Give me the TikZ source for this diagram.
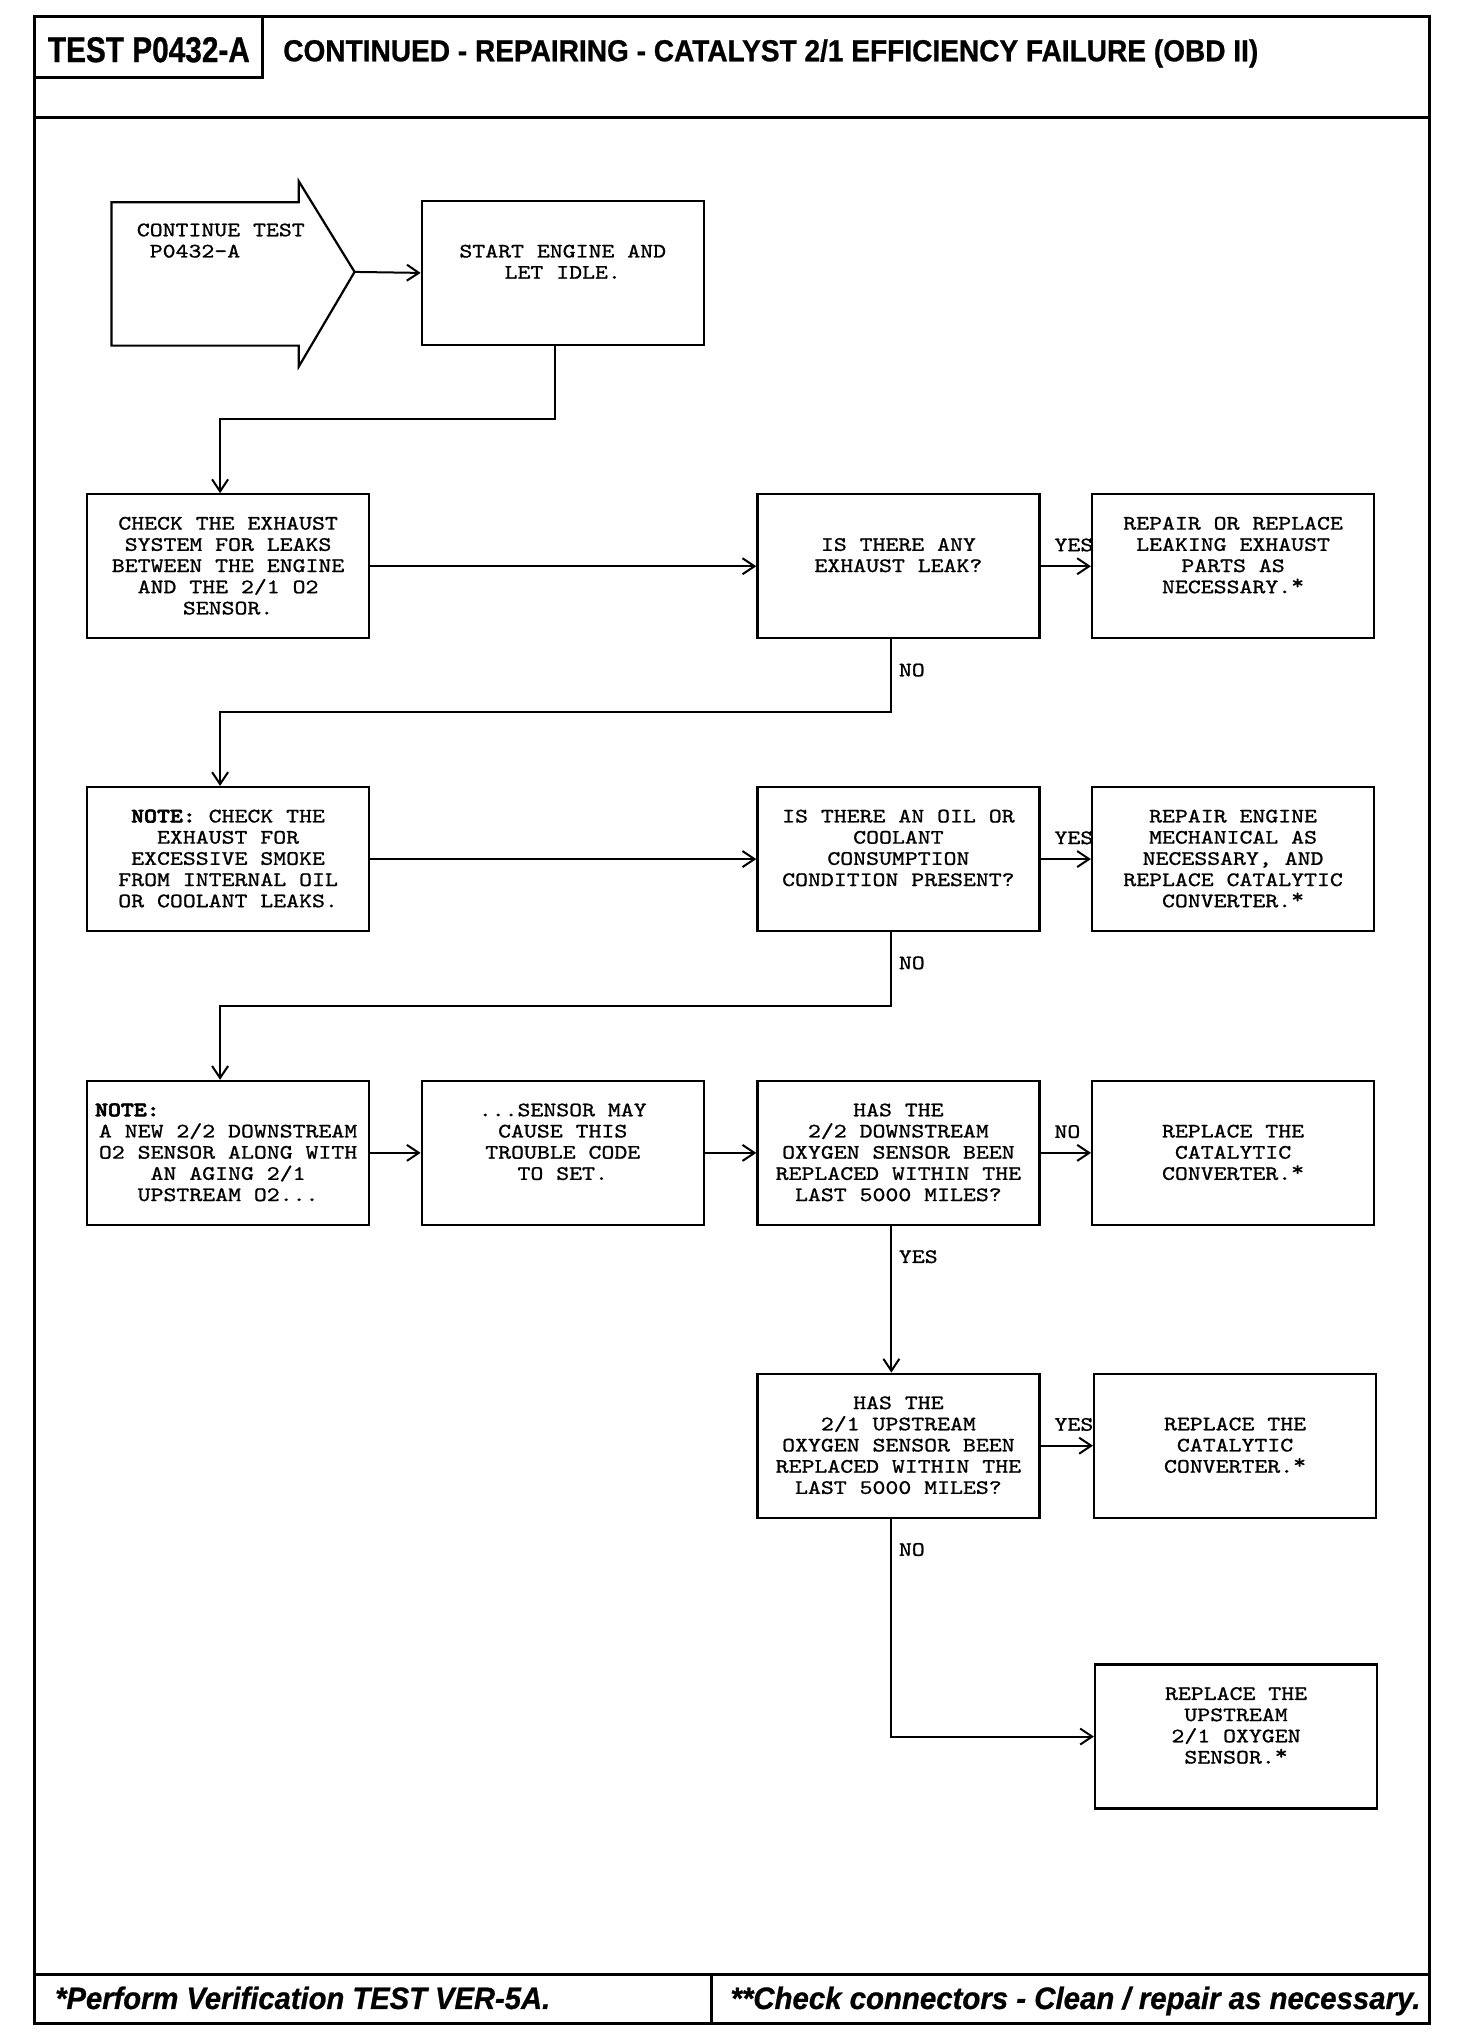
\documentclass[tikz,border=0pt]{standalone}
\usepackage{fontspec}
\usepackage{graphicx}
\usetikzlibrary{arrows.meta}
\newfontfamily\flowfont[Extension=.otf,FakeStretch=1.2,FakeBold=1,BoldFont=lmmonolt10-bold,BoldFeatures={FakeBold=3}]{lmmono10-regular}
\newfontfamily\headfont[FakeBold=0.8]{Liberation Sans}
\newcommand{\flowsize}{\fontsize{10.25pt}{10.6pt}\selectfont\lineskiplimit=-20pt\relax}
\newcommand{\lowtop}{21.9pt}
\newcommand{\upstar}{\raisebox{2pt}{*}}
\newcommand{\boxtext}[2][11.3pt]{\parbox[c][72pt][t]{133pt}{\centering\vspace*{#1}#2}}

\begin{document}
\begin{tikzpicture}[x=0.498pt,y=-0.498pt,
  >={Straight Barb[length=6pt,width=8pt]},
  frame/.style={line width=1.5pt},
  stepbox/.style={draw,line width=1.1pt,inner sep=0pt,minimum width=141pt,minimum height=72pt,font=\flowfont\flowsize},
  flow/.style={->,line width=1pt},
  tag/.style={inner sep=0pt,font=\flowfont\flowsize}]
\fill[white](0,0)rectangle(1477.9,2052.2);
\useasboundingbox(0,0)rectangle(1477.9,2052.2);
% page frame
\draw[frame](35,17)rectangle(1435,2032);
\draw[frame](35,118)--(1435,118);
\draw[frame](35,78)--(264,78)--(264,17);
\draw[frame](35,1982)--(1435,1982);
\draw[frame](714,1982)--(714,2032);
\node[inner sep=0pt](testid)at(149.5,50){\resizebox{101pt}{12.5pt}{\headfont\bfseries TEST P0432-A}};
\node[inner sep=0pt,anchor=base west](title)at(284,61.5){\resizebox{487.5pt}{11pt}{\headfont\bfseries CONTINUED - REPAIRING - CATALYST 2/1 EFFICIENCY FAILURE (OBD II)}};
\node[inner sep=0pt,anchor=base west](verify)at(55,2017){\resizebox{247.5pt}{11.2pt}{\headfont\bfseries\itshape *Perform Verification TEST VER-5A.}};
\node[inner sep=0pt,anchor=base west](connect)at(733,2017){\resizebox{345pt}{11.2pt}{\headfont\bfseries\itshape **Check connectors - Clean / repair as necessary.}};
% start arrow
\draw[line width=1.1pt](112,203)--(300,203)--(300,182)--(356,273)--(300,368)--(300,347)--(112,347)--cycle;
\coordinate(tip)at(356,273);
\node[tag,anchor=north west,align=left](cont)at(137,224){CONTINUE TEST\\\phantom{X}P0432-A};
% boxes
\node[stepbox](start)at(565,274){\boxtext[\lowtop]{START ENGINE AND\\LET IDLE.}};
\node[stepbox](chk)at(229,568.5){\boxtext{CHECK THE EXHAUST\\SYSTEM FOR LEAKS\\BETWEEN THE ENGINE\\AND THE 2/1 O2\\SENSOR.}};
\node[stepbox](leak)at(902,568.5){\boxtext[\lowtop]{IS THERE ANY\\EXHAUST LEAK?}};
\node[stepbox](fixleak)at(1238,568.5){\boxtext{REPAIR OR REPLACE\\LEAKING EXHAUST\\PARTS AS\\NECESSARY.\upstar}};
\node[stepbox](smoke)at(229,862.5){\boxtext{{\bfseries NOTE:} CHECK THE\\EXHAUST FOR\\EXCESSIVE SMOKE\\FROM INTERNAL OIL\\OR COOLANT LEAKS.}};
\node[stepbox](oil)at(902,862.5){\boxtext{IS THERE AN OIL OR\\COOLANT\\CONSUMPTION\\CONDITION PRESENT?}};
\node[stepbox](fixeng)at(1238,862.5){\boxtext{REPAIR ENGINE\\MECHANICAL AS\\NECESSARY, AND\\REPLACE CATALYTIC\\CONVERTER.\upstar}};
\node[stepbox](aging)at(229,1157.5){\boxtext{{\bfseries NOTE:}\hfill\null\\A NEW 2/2 DOWNSTREAM\\O2 SENSOR ALONG WITH\\AN AGING 2/1\\UPSTREAM O2...}};
\node[stepbox](cause)at(565,1157.5){\boxtext{...SENSOR MAY\\CAUSE THIS\\TROUBLE CODE\\TO SET.}};
\node[stepbox](down)at(902,1157.5){\boxtext{HAS THE\\2/2 DOWNSTREAM\\OXYGEN SENSOR BEEN\\REPLACED WITHIN THE\\LAST 5000 MILES?}};
\node[stepbox](cat1)at(1238,1157.5){\boxtext[\lowtop]{REPLACE THE\\CATALYTIC\\CONVERTER.\upstar}};
\node[stepbox](up)at(902,1451.5){\boxtext{HAS THE\\2/1 UPSTREAM\\OXYGEN SENSOR BEEN\\REPLACED WITHIN THE\\LAST 5000 MILES?}};
\node[stepbox](cat2)at(1240,1451.5){\boxtext[\lowtop]{REPLACE THE\\CATALYTIC\\CONVERTER.\upstar}};
\node[stepbox](upsens)at(1241,1743.5){\boxtext{REPLACE THE\\UPSTREAM\\2/1 OXYGEN\\SENSOR.\upstar}};
% connectors
\draw[flow](tip)--(start.west);
\draw[flow]([xshift=-4pt]start.south)--++(0,73)-|([xshift=-4pt]chk.north);
\draw[flow](chk.east)--(leak.west);
\draw[flow](leak.east)--node[tag,pos=0,anchor=base west,xshift=6.5pt,yshift=7.5pt](yes1){YES}(fixleak.west);
\draw[flow]([xshift=-3.5pt]leak.south)--node[tag,pos=0,anchor=base west,xshift=3.25pt,yshift=-18.5pt](no1){NO}++(0,73)-|([xshift=-4pt]smoke.north);
\draw[flow](smoke.east)--(oil.west);
\draw[flow](oil.east)--node[tag,pos=0,anchor=base west,xshift=6.5pt,yshift=7.5pt](yes2){YES}(fixeng.west);
\draw[flow]([xshift=-3.5pt]oil.south)--node[tag,pos=0,anchor=base west,xshift=3.25pt,yshift=-18.5pt](no2){NO}++(0,74)-|([xshift=-4pt]aging.north);
\draw[flow](aging.east)--(cause.west);
\draw[flow](cause.east)--(down.west);
\draw[flow](down.east)--node[tag,pos=0,anchor=base west,xshift=6.5pt,yshift=7.5pt](no3){NO}(cat1.west);
\draw[flow]([xshift=-3.5pt]down.south)--node[tag,pos=0,anchor=base west,xshift=3.25pt,yshift=-18.5pt](yes3){YES}([xshift=-3.5pt]up.north);
\draw[flow](up.east)--node[tag,pos=0,anchor=base west,xshift=6.5pt,yshift=7.5pt](yes4){YES}(cat2.west);
\draw[flow]([xshift=-3.5pt]up.south)|-node[tag,pos=0,anchor=base west,xshift=3.25pt,yshift=-18.5pt](no4){NO}(upsens.west);
\end{tikzpicture}
\end{document}
